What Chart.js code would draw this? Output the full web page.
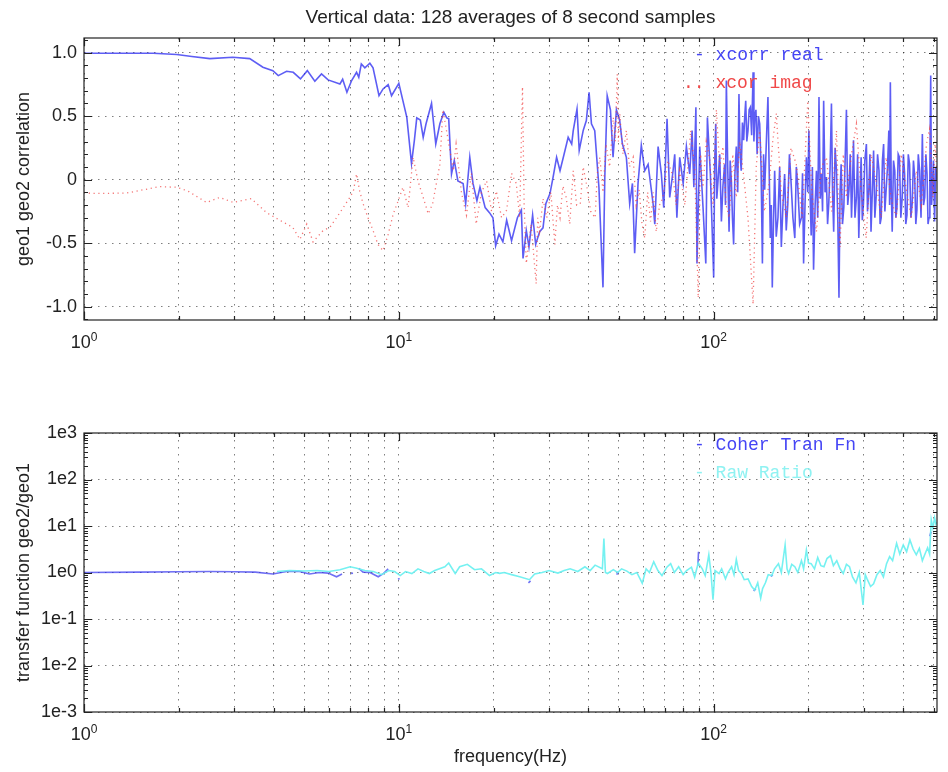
<!DOCTYPE html>
<html>
<head>
<meta charset="utf-8">
<title>geo1 / geo2 correlation</title>
<script src="https://cdn.jsdelivr.net/npm/chart.js@4.4.0/dist/chart.umd.min.js"></script>
<style>
  body { margin: 0; background: #fff; }
  #wrap { position: relative; width: 948px; height: 772px; }
  canvas { position: absolute; left: 0; }
  #corrChart { top: 0; }
  #tfChart { top: 380px; }
</style>
</head>
<body>
<div id="wrap">
  <canvas id="corrChart" width="948" height="380"></canvas>
  <canvas id="tfChart" width="948" height="392"></canvas>
</div>
<script>
// --- data ---
const freqTicks = [1, 2, 3, 4, 5, 6, 7, 8, 9, 10, 20, 30, 40, 50, 60, 70, 80, 90, 100, 200, 300, 400, 500];
const freqDecades = [1, 10, 100];
const freqExponents = ['0', '1', '2'];
const corrTicks = [-1, -0.5, 0, 0.5, 1];
const corrLabels = ['-1.0', '-0.5', '0', '0.5', '1.0'];
const tfTicks = [1e-3, 1e-2, 1e-1, 1, 10, 100, 1000];
const tfLabels = ['1e-3', '1e-2', '1e-1', '1e0', '1e1', '1e2', '1e3'];

const realFreq = [
  1, 1.3, 1.66, 1.97, 2.2, 2.51, 2.97, 3.36, 3.7, 3.98,
  4.14, 4.4, 4.62, 4.87, 5.12, 5.41, 5.68, 5.96, 6.5, 6.63,
  6.84, 7.08, 7.34, 7.46, 7.6, 7.8, 8.09, 8.28, 8.65, 8.91,
  9.25, 9.48, 10.0, 10.3, 10.6, 10.97, 11.2, 11.4, 11.7, 11.95,
  12.2, 12.7, 13.1, 13.5, 13.9, 14.2, 14.4, 14.7, 15.0, 15.4,
  16.0, 16.3, 16.8, 17.2, 17.7, 18.1, 18.8, 19.4, 19.9, 20.3,
  20.8, 21.4, 22.0, 22.8, 23.8, 24.5, 24.8, 25.4, 25.9, 26.6,
  27.2, 28.0, 28.7, 29.3, 30.2, 30.9, 31.7, 32.5, 33.3, 34.5,
  35.4, 35.8, 36.8, 37.4, 38.5, 39.4, 40.2, 40.9, 41.9, 43.2,
  44.5, 45.1, 45.9, 47, 47.9, 49.1, 50.3, 51.3, 52.8, 54.1,
  55.2, 56.1, 57.5, 58.9, 60.4, 61.9, 64.2, 65, 66.6, 68.2,
  69.4, 71.1, 72.5, 74.3, 75.2, 76.4, 78, 80, 81.9, 83.9,
  85.4, 86.5, 87.8, 88.5, 90.3, 92.5, 94.4, 95.5, 97.6, 100,
  100.7, 101.5, 102.3, 103.2, 104.5, 105.8, 107, 108.3, 109, 109.7,
  110.8, 111.9, 112.8, 113.8, 114.7, 115.7, 116.8, 118, 119.2, 120.3,
  121.3, 122.3, 123.4, 124.5, 125.5, 126.4, 127.4, 128.5, 129.6, 130.8,
  132, 133.4, 134.2, 135, 136.2, 137.4, 138.7, 140, 141.4, 142.8,
  144, 145.2, 147, 148.7, 150, 151.3, 152.4, 153.5, 154.8, 156.2,
  158, 160, 162, 164, 166, 168, 170, 172, 174, 176,
  178.5, 181, 183, 185, 187.5, 190, 191.5, 193, 195, 197,
  199, 200.6, 202.3, 204, 205.8, 207.6, 210, 212, 214, 216,
  218, 220, 221.7, 223.5, 225.8, 228, 230, 232, 234.3, 236.6,
  238.5, 240.5, 243, 245.5, 247.8, 250, 252, 254, 256.5, 259,
  261.5, 264, 266.5, 269, 271.5, 274, 276, 278, 281, 284,
  286.5, 289, 291.5, 294, 296.5, 299, 302, 305.5, 308, 311,
  313.5, 316, 319, 322, 325, 328, 331.5, 335, 337.7, 340.5,
  343.5, 346.5, 349.7, 353, 356.5, 360, 362, 364, 366.5, 369,
  372.5, 376, 379, 382, 385.5, 389, 393, 397, 400.5, 404,
  407.5, 411, 415, 419, 423, 427, 431, 435, 438.5, 442,
  446.5, 451, 455.5, 460, 464, 468, 472, 476, 479.5, 483,
  486, 489, 492, 495, 499, 503, 507.5, 512
];
const realVals = [
  0.995, 0.995, 0.995, 0.985, 0.97, 0.953, 0.963, 0.953, 0.885, 0.858,
  0.819, 0.853, 0.845, 0.793, 0.858, 0.774, 0.832, 0.785, 0.753, 0.79,
  0.688, 0.78, 0.845, 0.805, 0.911, 0.88, 0.916, 0.88, 0.661, 0.714,
  0.748, 0.661, 0.758, 0.622, 0.49, 0.126, 0.307, 0.486, 0.47, 0.333,
  0.44, 0.6, 0.281, 0.44, 0.53, 0.486, 0.48, 0.045, 0.15, -0.01,
  -0.03, -0.19, 0.176, -0.03, -0.165, -0.06, -0.22, -0.26, -0.3, -0.52,
  -0.43, -0.49, -0.32, -0.48, -0.3, -0.24, -0.62, -0.4, -0.53, -0.28,
  -0.51, -0.41, -0.38, -0.19, -0.11, 0.02, 0.176, 0.07, 0.176, 0.333,
  0.28, 0.386, 0.556, 0.23, 0.386, 0.465, 0.688, 0.44, 0.386, -0.06,
  -0.848, 0.02, 0.66, 0.55, 0.176, 0.55, 0.465, 0.28, 0.176, -0.19,
  -0.03, -0.58, -0.03, 0.27, 0.07, 0.12, -0.19, -0.35, 0.26, 0.045,
  -0.22, 0.48, -0.14, 0.07, 0.2, -0.3, 0.176, -0.03, 0.26, 0.045,
  0.386, -0.06, 0.57, -0.66, 0.26, -0.22, -0.66, 0.49, 0.045, -0.77,
  0.1, 0.44, -0.15, -0.01, 0.2, -0.33, -0.05, 0.12, -0.2, 0.78,
  0.1, -0.41, 0.15, -0.01, -0.3, -0.51, 0.05, 0.26, -0.1, 0.675,
  0.2, 0.07, 0.45, 0.31, 0.5, 0.62, 0.3, 0.386, 0.55, 0.57,
  0.35, 0.845, 0.3, 0.49, 0.55, 0.2, 0.5, 0.44, 0.1, -0.66,
  0.2, -0.08, 0.3, 0.65, 0.1, -0.46, -0.2, -0.85, -0.35, 0.07,
  -0.45, -0.3, 0.1, -0.53, -0.2, 0.045, -0.4, -0.19, 0.2, -0.01,
  -0.3, -0.46, 0.1, -0.06, -0.35, -0.3, 0.05, -0.66, -0.2, 0.176,
  -0.1, 0.386, -0.1, -0.44, 0.1, -0.71, -0.2, 0.07, -0.3, 0.65,
  -0.15, 0.045, -0.25, 0.62, -0.1, 0.02, -0.35, -0.19, 0.1, 0.6,
  -0.1, -0.41, 0.25, 0.07, -0.3, -0.93, -0.1, 0.12, -0.35, -0.22,
  0.15, 0.55, -0.2, -0.08, 0.2, -0.3, -0.05, 0.31, -0.3, -0.14,
  0.2, -0.46, -0.1, 0.176, -0.32, -0.19, 0.15, 0.28, -0.25, -0.08,
  0.2, -0.41, -0.1, 0.23, -0.3, -0.14, 0.2, 0.07, -0.35, -0.3,
  0.15, 0.28, -0.25, -0.08, 0.1, 0.386, -0.2, 0.766, -0.1, -0.41,
  0.15, 0.07, -0.3, -0.22, 0.2, 0.176, -0.3, -0.14, 0.2, 0.045,
  -0.35, -0.28, 0.2, 0.12, -0.3, -0.19, 0.15, 0.02, -0.35, -0.24,
  0.2, 0.07, -0.3, 0.36, -0.2, -0.14, 0.2, 0.045, -0.35, -0.3,
  0.1, 0.82, -0.2, -0.08, 0.15, -0.33, 0.1, -0.01
];

const imagFreq = [
  1, 1.05, 1.2, 1.37, 1.47, 1.74, 1.97, 2.14, 2.45, 2.7,
  2.98, 3.4, 3.8, 4.19, 4.6, 4.85, 5.1, 5.34, 5.75, 6.04,
  6.34, 6.66, 6.99, 7.17, 7.34, 7.51, 7.7, 7.98, 8.28, 8.58,
  8.91, 9.25, 9.6, 9.96, 10.3, 10.7, 11.1, 11.5, 11.95, 12.4,
  12.8, 13.5, 13.8, 14.3, 14.9, 15.2, 15.8, 16.4, 17, 17.6,
  18.3, 19, 19.7, 20.4, 21.2, 22, 22.8, 23.6, 24.2, 24.7,
  25, 25.4, 26.3, 27.3, 27.6, 28, 28.7, 29.5, 30.4, 31.3,
  31.9, 32.5, 33.2, 34, 34.9, 35.8, 36.7, 37.7, 38.5, 39.4,
  40.7, 42, 42.7, 43.5, 44.5, 45.5, 46.7, 48, 48.7, 49.4,
  49.8, 50.3, 51.5, 52.8, 54, 55.5, 56.7, 58, 59.2, 60.4,
  61.7, 63, 64.3, 65.7, 67.3, 69, 71.5, 74.3, 76, 78,
  81, 84.5, 87, 89.3, 90.9, 92.5, 94.7, 97, 99.5, 102,
  104.5, 107, 109.5, 112, 115, 118, 121, 124, 128.5, 133.4,
  136.5, 140, 145, 150, 154, 158, 164, 170, 176, 183,
  191, 199, 205, 212, 220, 228, 237, 245.5, 248.5, 252,
  258, 264, 274, 284, 294, 305, 316, 328, 340, 353,
  366, 380, 394, 409, 424, 440, 457, 474, 485, 497,
  505, 512
];
const imagVals = [
  -0.1, -0.108, -0.108, -0.105, -0.09, -0.055, -0.06, -0.09, -0.18, -0.14,
  -0.18, -0.15, -0.26, -0.32, -0.375, -0.47, -0.35, -0.49, -0.4, -0.375,
  -0.3, -0.22, -0.14, -0.09, 0.045, -0.09, -0.19, -0.3, -0.4, -0.51,
  -0.56, -0.43, -0.27, -0.165, -0.06, -0.22, 0.176, -0.01, -0.14, -0.27,
  -0.19, 0.12, 0.55, 0.33, 0.07, 0.28, -0.1, -0.28, 0.05, -0.35,
  -0.1, -0.01, -0.25, -0.09, -0.3, -0.24, 0.05, -0.03, -0.3, 0.73,
  -0.2, -0.66, -0.35, -0.82, -0.3, -0.41, -0.15, -0.3, -0.1, -0.51,
  -0.2, -0.3, -0.05, -0.14, -0.35, 0.07, -0.2, -0.19, 0.1, -0.03,
  -0.25, -0.3, 0.05, 0.176, -0.1, 0.28, 0.1, 0.49, 0.3, 0.83,
  0.3, 0.52, 0.2, 0.386, 0.1, 0.176, -0.2, -0.08, -0.35, -0.46,
  -0.1, -0.33, -0.1, -0.41, -0.2, -0.14, 0.15, 0.02, -0.2, 0.07,
  -0.2, 0.386, 0.1, -0.93, 0.2, -0.06, 0.3, 0.176, -0.2, 0.55,
  0.1, 0.26, -0.2, -0.3, 0.2, -0.14, 0.3, 0.07, -0.3, -0.98,
  0.1, 0.386, -0.25, -0.03, 0.3, 0.52, -0.1, -0.3, 0.25, 0.12,
  -0.3, 0.62, -0.1, -0.41, 0.1, 0.176, -0.25, 0.386, -0.1, -0.53,
  0.2, -0.14, 0.2, 0.44, -0.1, -0.46, 0.2, -0.01, -0.3, 0.176,
  -0.15, -0.3, 0.2, -0.08, -0.3, 0.07, -0.2, 0.28, 0.4, -0.14,
  0.3, 0.02
];

// coherent transfer function only exists where coherence is high (null = gap)
const coherFreq = [
  1, 1.5, 2, 2.5, 3, 3.5, 3.98, 4.4, 4.8, 5.2,
  5.6, 5.96, 6.34, 6.6, 6.8, 7.05, 7.15, 7.3, 7.46, 7.7,
  8.1, 8.6, 8.9, 9.25, 9.5, 9.95, 10.05, 10.2, 25.8, 26.2,
  27, 49.2, 49.8, 51, 89.1, 89.5, 91, 134, 136, 138,
  152, 154, 156, 486, 490
];
const coherVals = [
  1.0, 1.02, 1.04, 1.05, 1.04, 1.02, 0.93, 1.05, 1.07, 0.93,
  1.0, 0.97, 0.81, 0.93, null, 0.95, 0.97, null, 1.23, 1.02,
  1.0, 0.81, 0.93, 1.2, null, 0.71, 0.75, null, 0.6, 0.66,
  null, 0.9, 1.05, null, 1.4, 2.8, null, 0.4, 0.45, null,
  0.82, 0.9, null, 6, 7.5
];

const rawFreq = [
  4.1, 4.5, 5, 5.5, 6, 6.5, 7, 7.3, 7.8, 8.3,
  8.8, 9.3, 9.7, 10.1, 10.5, 11, 11.5, 12, 12.5, 13,
  14, 14.4, 15.1, 15.6, 16.5, 17.4, 18.3, 19.4, 20.3, 20.9,
  21.6, 22.8, 24.2, 26, 27, 28.5, 30, 32, 33.5, 35,
  37, 39, 40.5, 42, 44.3, 44.8, 45.3, 46, 48, 49.5,
  51, 53, 55, 57, 59.3, 61, 62.5, 64.5, 66.5, 68.5,
  71, 73, 75, 77.4, 80, 82, 85, 87, 89.3, 92,
  94, 96.5, 98, 99.5, 101, 104, 106, 109, 111, 114,
  116, 118, 120, 122.5, 125, 128.6, 132, 135, 138, 141,
  143, 146, 149, 153, 156, 160.6, 164, 168.6, 171, 173,
  177, 181, 185, 190, 193, 197, 200, 204, 209, 214,
  219, 224, 229, 235, 240, 246, 252, 258, 264, 270,
  276, 283, 290, 298, 303, 307, 315, 322, 330, 338,
  346, 354, 362, 370, 381, 390, 400, 410, 420, 430,
  440, 450, 460, 470, 478, 485, 491, 497, 503, 508,
  512
];
const rawVals = [
  1.05, 1.1, 1.08, 1.1, 1.05, 1.15, 1.33, 1.25, 1.1, 1.05,
  0.9, 1.1, 1.05, 0.86, 1.05, 0.95, 1.2, 1.05, 0.95, 1.1,
  1.33, 1.6, 0.95, 1.33, 1.5, 1.15, 1.2, 0.86, 1.0, 0.96,
  1.0, 0.9, 0.81, 0.7, 0.93, 1.0, 1.1, 0.97, 1.1, 1.2,
  1.05, 1.33, 1.1, 1.44, 1.2, 5.4, 1.0, 0.95, 1.15, 1.0,
  1.2, 1.07, 0.9, 1.0, 0.59, 1.2, 1.0, 1.7, 1.1, 0.86,
  1.3, 1.55, 1.0, 1.33, 0.9, 1.1, 1.3, 0.8, 1.6, 1.2,
  0.86, 2.4, 1.0, 0.26, 1.1, 0.95, 1.2, 0.73, 1.0, 1.33,
  0.9, 1.9, 1.1, 0.95, 0.7, 0.73, 0.5, 0.42, 0.6, 0.28,
  0.45, 0.6, 0.9, 0.86, 1.2, 1.55, 1.0, 3.9, 1.2, 0.95,
  1.5, 1.33, 1.0, 1.8, 1.2, 3.05, 1.6, 1.55, 1.2, 2.1,
  1.4, 1.33, 2.0, 2.3, 1.4, 1.8, 1.2, 0.95, 1.5, 1.33,
  0.8, 0.6, 1.0, 0.2, 0.9, 0.73, 0.5, 0.57, 0.9, 1.1,
  0.8, 1.55, 2.2, 1.8, 4.25, 2.5, 3.9, 2.8, 5.0, 3.2,
  2.4, 3.3, 1.8, 2.6, 3.4, 2.5, 13.5, 9, 15, 11,
  12
];

// --- styling ---
const SANS = '"Liberation Sans", Arial, Helvetica, sans-serif';
const MONO = '"Liberation Mono", "Courier New", monospace';
const INK = '#222';
const GRID = 'rgba(0,0,0,0.5)';

function pts(xs, ys) {
  return xs.map((x, i) => ({ x: x, y: ys[i] }));
}

function freqAxis(title) {
  return {
    type: 'logarithmic',
    min: 1,
    max: 512,
    afterBuildTicks: s => { s.ticks = freqTicks.map(v => ({ value: v })); },
    afterFit: s => { s.height = 60; },
    // decade labels (10 with a raised exponent) are drawn by the frame plugin
    ticks: { autoSkip: false, maxRotation: 0, padding: 11, color: INK,
      font: { family: SANS, size: 18 }, callback: () => '' },
    grid: { color: GRID, lineWidth: 1, drawTicks: false, borderDash: [1.5, 5.5] },
    border: { display: false, dash: [1.5, 5.5] },
    title: title
      ? { display: true, text: title, color: INK, font: { family: SANS, size: 18 }, padding: { top: 0, bottom: 4 } }
      : { display: false }
  };
}

function valueAxis(opts) {
  return Object.assign({
    afterFit: s => { s.width = 84; },
    grid: { color: GRID, lineWidth: 1, drawTicks: false, borderDash: [1.5, 5.5] },
    border: { display: false, dash: [1.5, 5.5] }
  }, opts);
}

// box, inward tick marks, decade labels, legend text and title
const framePlugin = {
  id: 'frame',
  afterDraw(chart, args, o) {
    const { ctx, chartArea: a } = chart;
    const xs = chart.scales.x, ys = chart.scales.y;
    ctx.save();
    ctx.strokeStyle = INK;
    ctx.lineWidth = 1.2;
    ctx.setLineDash([]);
    ctx.strokeRect(a.left, a.top, a.right - a.left, a.bottom - a.top);

    ctx.beginPath();
    freqTicks.forEach(v => {
      const px = Math.round(xs.getPixelForValue(v)) + 0.5;
      const len = freqDecades.includes(v) ? 8 : 4;
      ctx.moveTo(px, a.bottom); ctx.lineTo(px, a.bottom - len);
      ctx.moveTo(px, a.top); ctx.lineTo(px, a.top + len);
    });
    const yTick = (v, len) => {
      const py = Math.round(ys.getPixelForValue(v)) + 0.5;
      ctx.moveTo(a.left, py); ctx.lineTo(a.left + len, py);
      ctx.moveTo(a.right, py); ctx.lineTo(a.right - len, py);
    };
    o.yMinor.forEach(v => yTick(v, 4));
    o.yMajor.forEach(v => yTick(v, 8));
    ctx.stroke();

    // 10^n labels under the frequency axis
    ctx.fillStyle = INK;
    ctx.textBaseline = 'alphabetic';
    freqDecades.forEach((v, i) => {
      const px = xs.getPixelForValue(v);
      ctx.font = '18px ' + SANS;
      const wBase = ctx.measureText('10').width;
      ctx.font = '12px ' + SANS;
      const wExp = ctx.measureText(freqExponents[i]).width;
      const x0 = px - (wBase + wExp) / 2;
      const base = a.bottom + 28;
      ctx.font = '18px ' + SANS;
      ctx.fillText('10', x0, base);
      ctx.font = '12px ' + SANS;
      ctx.fillText(freqExponents[i], x0 + wBase, base - 7);
    });

    ctx.font = '18px ' + MONO;
    ctx.textBaseline = 'middle';
    o.legend.forEach(item => {
      ctx.fillStyle = item.color;
      ctx.fillText(item.text, a.right - item.dx, a.top + item.dy);
    });

    if (o.title) {
      ctx.fillStyle = INK;
      ctx.font = '19px ' + SANS;
      ctx.textAlign = 'center';
      ctx.fillText(o.title, (a.left + a.right) / 2, 18);
    }
    ctx.restore();
  }
};

const corrMinor = [];
for (let k = -11; k <= 11; k++) corrMinor.push(k / 10);
const tfMinor = [];
tfTicks.slice(0, -1).forEach(d => { for (let m = 2; m <= 9; m++) tfMinor.push(d * m); });

new Chart(document.getElementById('corrChart'), {
  type: 'line',
  data: {
    datasets: [
      {
        label: 'xcor imag', data: pts(imagFreq, imagVals),
        borderColor: 'rgba(240,70,70,0.75)', borderWidth: 1.3, borderDash: [1.2, 3.6],
        pointRadius: 0, tension: 0
      },
      {
        label: 'xcorr real', data: pts(realFreq, realVals),
        borderColor: 'rgba(30,30,240,0.72)', borderWidth: 1.6,
        pointRadius: 0, tension: 0
      }
    ]
  },
  options: {
    responsive: false, animation: false, devicePixelRatio: 1,
    layout: { padding: { top: 38, right: 11, left: 0, bottom: 0 } },
    plugins: {
      legend: { display: false }, tooltip: { enabled: false },
      frame: {
        title: 'Vertical data: 128 averages of 8 second samples',
        yMajor: corrTicks, yMinor: corrMinor,
        legend: [
          { text: '- xcorr real', color: '#4545f5', dx: 243, dy: 17 },
          { text: '.. xcor imag', color: '#f04848', dx: 254, dy: 45 }
        ]
      }
    },
    scales: {
      x: freqAxis(null),
      y: valueAxis({
        type: 'linear', min: -1.105, max: 1.115,
        afterBuildTicks: s => { s.ticks = corrTicks.map(v => ({ value: v })); },
        ticks: {
          padding: 7, color: INK, font: { family: SANS, size: 18 },
          callback: (v, i) => corrLabels[i]
        },
        title: { display: true, text: 'geo1 geo2 correlation', color: INK,
          font: { family: SANS, size: 18 }, padding: { top: 13, bottom: 0 } }
      })
    }
  },
  plugins: [framePlugin]
});

new Chart(document.getElementById('tfChart'), {
  type: 'line',
  data: {
    datasets: [
      {
        label: 'Raw Ratio', data: pts(rawFreq, rawVals),
        borderColor: 'rgba(110,240,240,0.95)', borderWidth: 1.6,
        pointRadius: 0, tension: 0
      },
      {
        label: 'Coher Tran Fn', data: pts(coherFreq, coherVals),
        borderColor: 'rgba(50,50,240,0.7)', borderWidth: 1.6,
        pointRadius: 0, tension: 0, spanGaps: false
      }
    ]
  },
  options: {
    responsive: false, animation: false, devicePixelRatio: 1,
    layout: { padding: { top: 53, right: 11, left: 0, bottom: 0 } },
    plugins: {
      legend: { display: false }, tooltip: { enabled: false },
      frame: {
        yMajor: tfTicks, yMinor: tfMinor,
        legend: [
          { text: '- Coher Tran Fn', color: '#4545f5', dx: 243, dy: 12 },
          { text: '- Raw Ratio', color: '#8ff2f2', dx: 243, dy: 40 }
        ]
      }
    },
    scales: {
      x: freqAxis('frequency(Hz)'),
      y: valueAxis({
        type: 'logarithmic', min: 1e-3, max: 1e3,
        afterBuildTicks: s => { s.ticks = tfTicks.map(v => ({ value: v })); },
        ticks: {
          padding: 7, color: INK, font: { family: SANS, size: 18 },
          callback: (v, i) => tfLabels[i]
        },
        title: { display: true, text: 'transfer function geo2/geo1', color: INK,
          font: { family: SANS, size: 18 }, padding: { top: 13, bottom: 0 } }
      })
    }
  },
  plugins: [framePlugin]
});
</script>
</body>
</html>
